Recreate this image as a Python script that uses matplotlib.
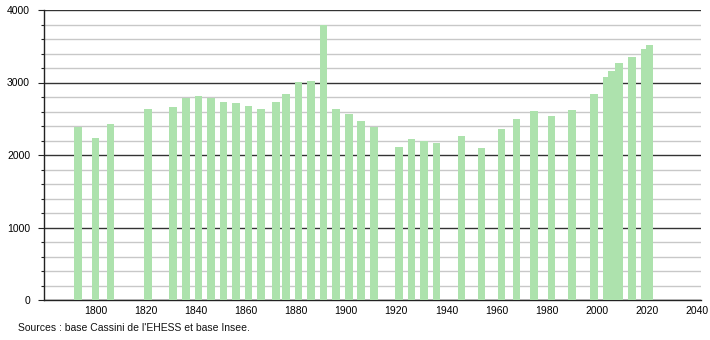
import matplotlib
matplotlib.use("Agg")
import matplotlib.pyplot as plt
from matplotlib.ticker import MultipleLocator

years = [1793, 1800, 1806, 1821, 1831, 1836, 1841, 1846, 1851, 1856,
         1861, 1866, 1872, 1876, 1881, 1886, 1891, 1896, 1901, 1906,
         1911, 1921, 1926, 1931, 1936, 1946, 1954, 1962, 1968, 1975,
         1982, 1990, 1999, 2004, 2006, 2009, 2014, 2019, 2021]
population = [2380, 2240, 2430, 2640, 2660, 2780, 2815, 2785, 2730, 2715,
              2680, 2635, 2735, 2840, 3010, 3025, 3795, 2640, 2565, 2475,
              2380, 2105, 2215, 2195, 2160, 2265, 2100, 2360, 2490, 2605,
              2540, 2620, 2835, 3070, 3165, 3265, 3350, 3460, 3520]
x_ticks = [1800, 1820, 1840, 1860, 1880, 1900, 1920, 1940, 1960, 1980, 2000, 2020, 2040]
y_ticks = [0, 1000, 2000, 3000, 4000]
source_text = "Sources : base Cassini de l'EHESS et base Insee."

plt.rcParams['font.family'] = ['Liberation Sans', 'DejaVu Sans']

fig = plt.figure(figsize=(7.1, 3.4), dpi=100)
ax = fig.add_axes([44/710, 40/340, (701-44)/710, 290/340])

bar_color = '#ade2ad'
ax.bar(years, population, width=3.05, color=bar_color, zorder=3, linewidth=0)

ax.set_xlim(1779.4, 2041.6)
ax.set_ylim(0, 4000)

ax.set_yticks(y_ticks)
ax.yaxis.set_minor_locator(MultipleLocator(200))
ax.set_xticks(x_ticks)
ax.set_xticklabels([str(t) for t in x_ticks])

ax.grid(which='minor', axis='y', color='#c8c8c8', linewidth=1.0, zorder=1)
ax.grid(which='major', axis='y', color='#333333', linewidth=1.0, zorder=2)
ax.set_axisbelow(True)

for s in ['right', 'top']:
    ax.spines[s].set_visible(False)
ax.spines['left'].set_color('#222222')
ax.spines['bottom'].set_color('#222222')
ax.spines['left'].set_linewidth(1.0)
ax.spines['bottom'].set_linewidth(1.0)

ax.tick_params(axis='y', which='major', length=4, width=0.8, color='#222222',
               labelsize=7.5, pad=6)
ax.tick_params(axis='y', which='minor', length=2.5, width=0.8, color='#222222')
ax.tick_params(axis='x', which='major', length=0, labelsize=7.5, pad=4)

fig.text(18/710, 1 - 328/340, source_text, fontsize=7.5, ha='left', va='center',
         color='#111111')

fig.savefig('out.png', dpi=100)
